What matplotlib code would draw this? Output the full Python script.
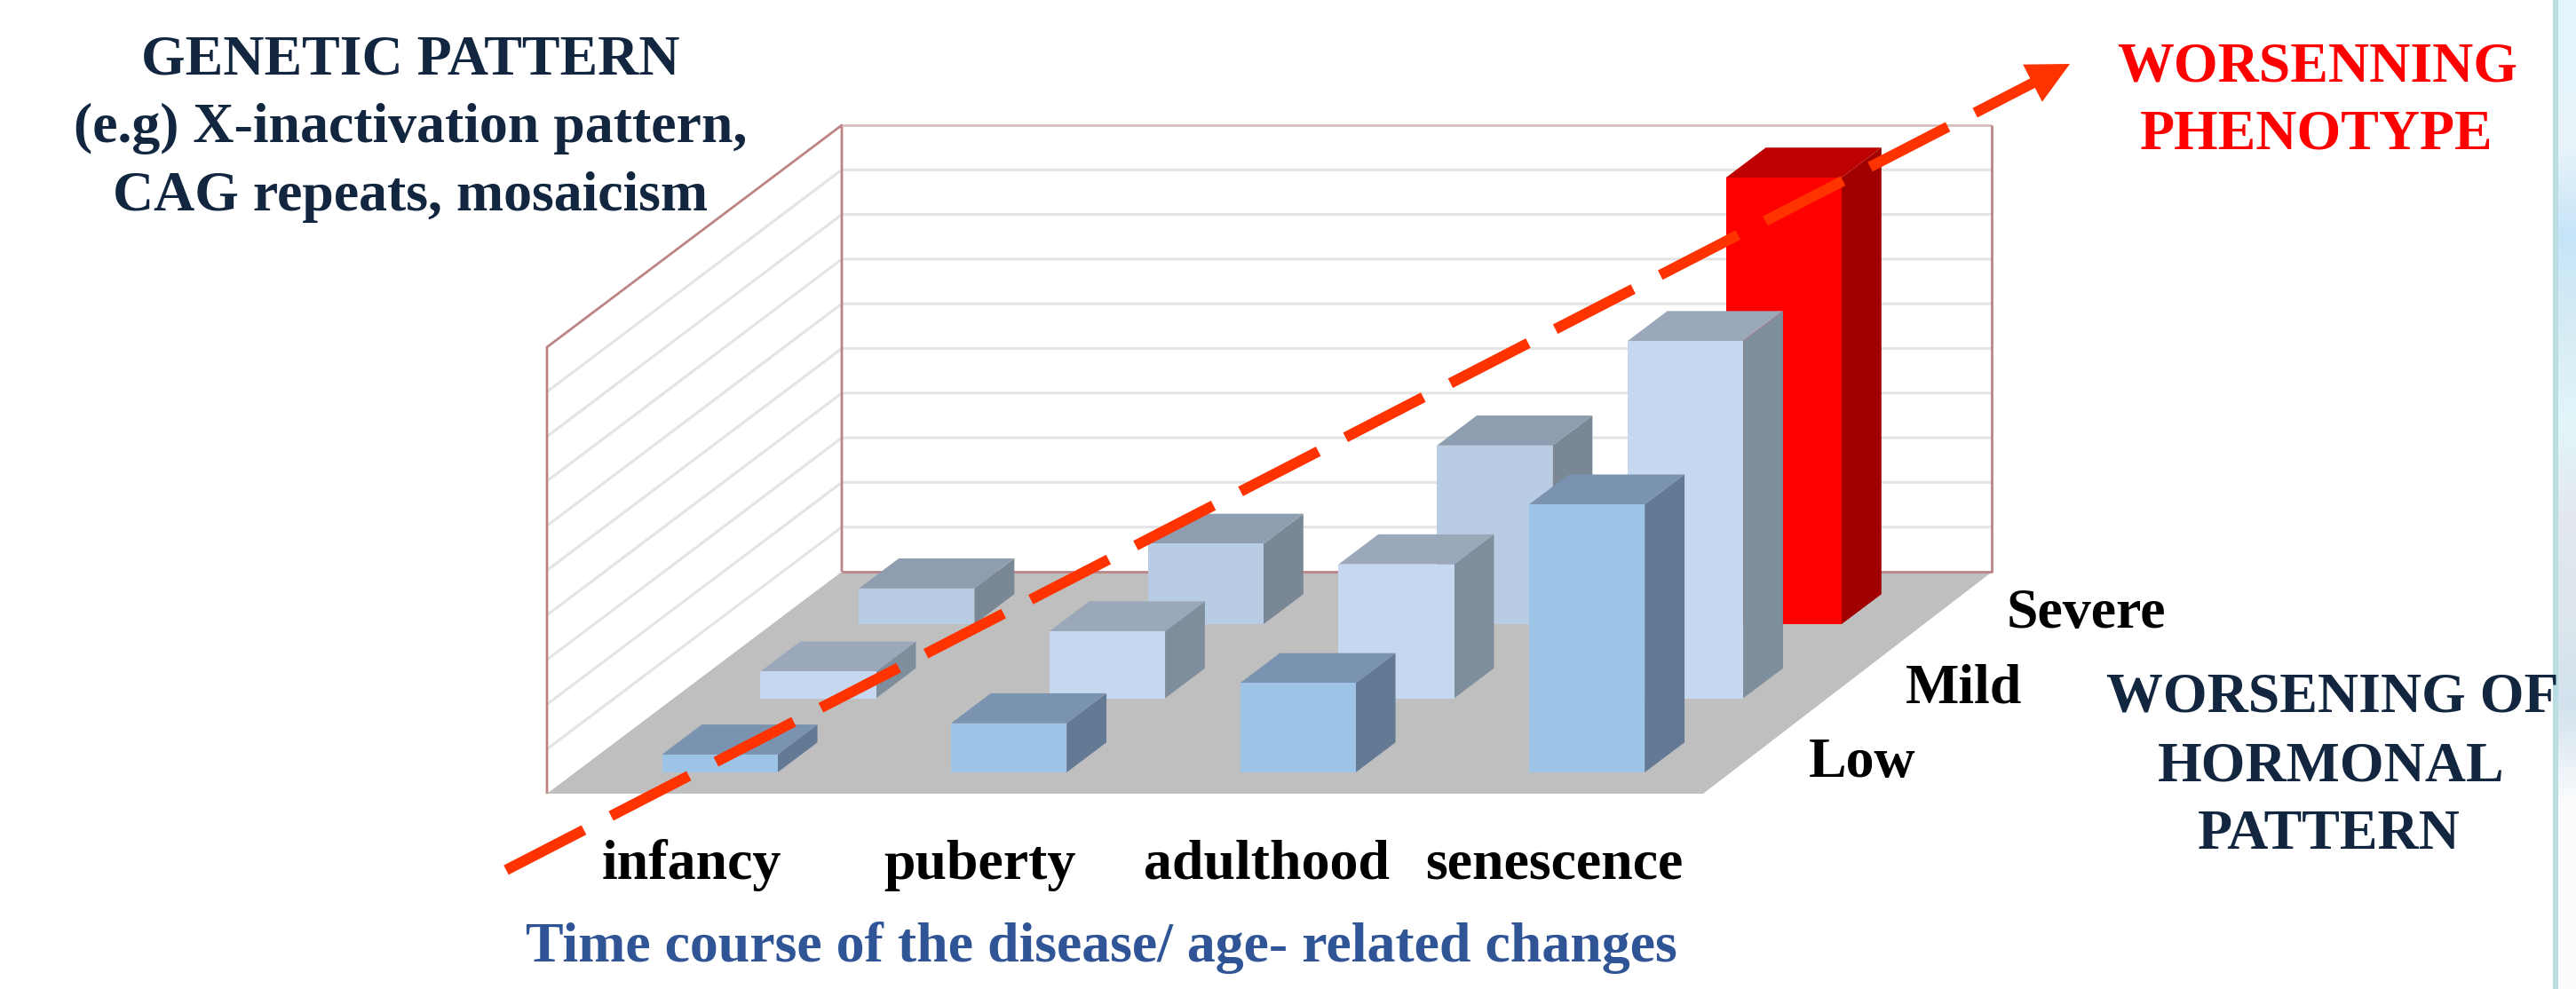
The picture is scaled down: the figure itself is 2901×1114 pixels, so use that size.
import numpy as np
import matplotlib
matplotlib.use("Agg")
import matplotlib.pyplot as plt
from matplotlib.colors import to_rgb
from matplotlib.patches import Polygon

plt.rcParams["font.family"] = "Liberation Serif"

# chart values
stages = ["infancy", "puberty", "adulthood", "senescence"]
levels = ["Low", "Mild", "Severe"]
low = [0.4, 1.1, 2.0, 6.0]
mild = [0.6, 1.5, 3.0, 8.0]
severe = [0.8, 1.8, 4.0, 10.0]

W, H = 2901, 1114

# pixel geometry of the oblique box
X0, Y0 = 616, 894      # front left floor corner
FLOOR_W = 1302
DX, DY = 332, -250     # depth vector
UNIT = 50.3            # pixels for one gridline step
N_GRID = 10
BACK_END = 3.98        # back wall is a touch narrower than the floor front

GROUP = FLOOR_W / len(stages)
BAR_W = 0.40
BAR_D = 0.135
ROW_START = [0.096, 0.430, 0.764]

# front, side, top
LOW_C = ("#9DC3E6", "#647A94", "#7993B1")
MILD_C = ("#C5D8F0", "#7F8E9D", "#9BA8BA")
SEVERE_C = ("#B8CCE4", "#7A8896", "#8E9DAF")
RED_C = ("#FF0000", "#A00000", "#BF0000")
WALL_EDGE = "#BC8484"
GRID_C = "#E4E4E4"
ARROW_C = "#FF3300"
NAVY = "#12263F"
FS = 46

# colours of the blurred slide background at the right edge, top to bottom
STRIP_C = ["#E3F4FC", "#EAF5FA", "#C6E4F8", "#D6ECF4", "#E2F6FA", "#E2E8EE", "#DDE6EC", "#D2E2EC", "#FAFBFD", "#FCFCFE"]


def proj(x, d, v):
    # x in groups, d in floor depth (0-1), v in gridline steps
    return (X0 + x * GROUP + d * DX, Y0 + d * DY - v * UNIT)


def poly(ax, pts, color, z=2):
    ax.add_patch(Polygon(pts, closed=True, facecolor=color, edgecolor="none", linewidth=0, zorder=z))


def bar(ax, i, d0, v, colors):
    x0 = i + (1 - BAR_W) / 2
    x1 = x0 + BAR_W
    d1 = d0 + BAR_D
    front, side, top = colors
    poly(ax, [proj(x1, d0, 0), proj(x1, d1, 0), proj(x1, d1, v), proj(x1, d0, v)], side)
    poly(ax, [proj(x0, d0, v), proj(x1, d0, v), proj(x1, d1, v), proj(x0, d1, v)], top)
    poly(ax, [proj(x0, d0, 0), proj(x1, d0, 0), proj(x1, d0, v), proj(x0, d0, v)], front)


def label(ax, x, base, s, color="black"):
    ax.text(x, base, s, ha="center", va="baseline", fontsize=FS, fontweight="bold", color=color, zorder=6)


def path(ax, pts, color, lw):
    xs = [p[0] for p in pts]
    ys = [p[1] for p in pts]
    ax.plot(xs, ys, color=color, lw=lw, zorder=1, solid_capstyle="butt")


fig = plt.figure(figsize=(W / 100, H / 100), dpi=100, facecolor="white")
ax = fig.add_axes([0, 0, 1, 1])

# pale strip at the right edge of the slide
strip = np.array([to_rgb(c) for c in STRIP_C]).reshape(-1, 1, 3)
ax.imshow(strip, extent=(2881, W, 1060, 0), aspect="auto", interpolation="bilinear", zorder=0)
ax.fill_between([2881, W], 1060, H, color="#FCFCFE", lw=0, zorder=0)
ax.fill_between([2875, 2881], 0, H, color="#B9DDE1", lw=0, zorder=0)
ax.set_xlim(0, W)
ax.set_ylim(H, 0)
ax.axis("off")

# floor and walls
poly(ax, [proj(0, 0, 0), proj(4, 0, 0), proj(BACK_END, 1, 0), proj(0, 1, 0)], "#BFBFBF", z=1)
for v in range(1, N_GRID):
    path(ax, [proj(0, 0, v), proj(0, 1, v), proj(BACK_END, 1, v)], GRID_C, 2.2)

path(ax, [proj(0, 0, 0), proj(0, 0, N_GRID), proj(0, 1, N_GRID), proj(0, 1, 0)], WALL_EDGE, 2)
path(ax, [proj(0, 1, N_GRID), proj(BACK_END, 1, N_GRID)], "#D8BEBE", 2)
path(ax, [proj(BACK_END, 1, N_GRID), proj(BACK_END, 1, 0), proj(0, 1, 0)], WALL_EDGE, 2)

# back row first so the front bars sit over it
rows = [(severe, SEVERE_C, ROW_START[2]), (mild, MILD_C, ROW_START[1]), (low, LOW_C, ROW_START[0])]
for vals, cols, d0 in rows:
    for i, v in enumerate(vals):
        bar(ax, i, d0, v, RED_C if v == max(severe) else cols)

# dashed worsening arrow
sx, sy, ex, ey = 570, 980, 2331, 72
slope = (ey - sy) / (ex - sx)
ax.plot([sx, 2303], [sy, sy + (2303 - sx) * slope], color=ARROW_C, lw=8.6,
        dashes=(8.25, 2.88), dash_capstyle="butt", zorder=5)
ax.annotate("", xy=(ex, ey), xytext=(2297, ey + (2297 - ex) * slope),
            arrowprops=dict(arrowstyle="-|>,head_length=1.0,head_width=0.5", color=ARROW_C,
                            lw=0, mutation_scale=34, shrinkA=0, shrinkB=0), zorder=5)

for s, x in zip(stages, [779, 1103, 1427, 1750]):
    label(ax, x, 990, s)
for s, x, base in zip(levels, [2097, 2212, 2349], [875, 791, 707]):
    label(ax, x, base, s)

label(ax, 462, 83, "GENETIC PATTERN", NAVY)
label(ax, 462, 160, "(e.g) X-inactivation pattern,", NAVY)
label(ax, 462, 237, "CAG repeats, mosaicism", NAVY)
label(ax, 2610, 91, "WORSENNING", "#FF0000")
label(ax, 2609, 167, "PHENOTYPE", "#FF0000")
label(ax, 2627, 802, "WORSENING OF", NAVY)
label(ax, 2625, 879, "HORMONAL", NAVY)
label(ax, 2623, 956, "PATTERN", NAVY)
label(ax, 1240, 1083, "Time course of the disease/ age- related changes", "#2F5597")

fig.savefig("out.png", dpi=100)
